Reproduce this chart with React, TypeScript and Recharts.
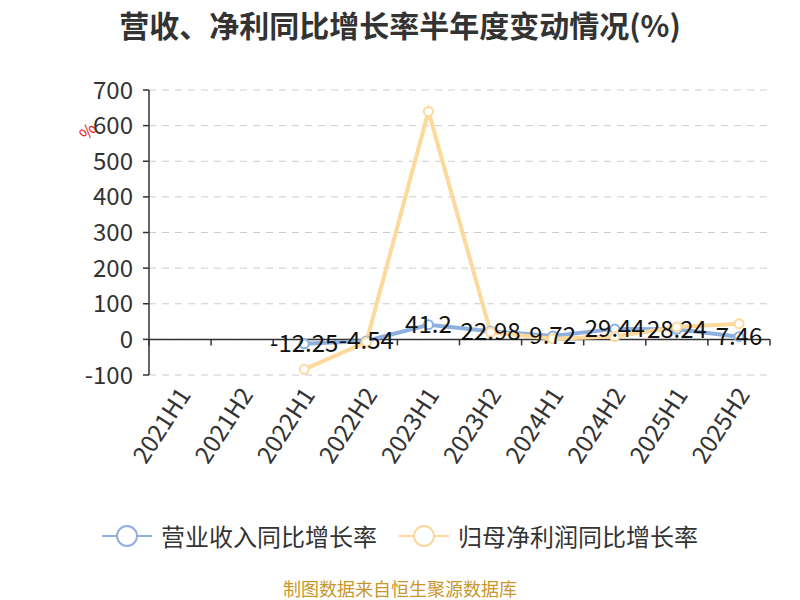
import React from 'react';
import {
  LineChart, Line, XAxis, YAxis, CartesianGrid, Legend, ReferenceLine, LabelList,
} from 'recharts';

const periods = ['2021H1', '2021H2', '2022H1', '2022H2', '2023H1', '2023H2', '2024H1', '2024H2', '2025H1', '2025H2'];
const revenueGrowth = [null, null, -12.25, -4.54, 41.2, 22.98, 9.72, 29.44, 28.24, 7.46];
const profitGrowth = [null, null, -84, -7.5, 640, 20, 2, 8, 35, 44];
const yTicks = [-100, 0, 100, 200, 300, 400, 500, 600, 700];

const REV = '营业收入同比增长率';
const PROFIT = '归母净利润同比增长率';
const BLUE = '#8fb0de';
const ORANGE = '#fdd99b';
const FONT = '"Noto Sans CJK SC", "Noto Sans", sans-serif';

const data = periods.map((p, i) => ({
  period: p,
  [REV]: revenueGrowth[i],
  [PROFIT]: profitGrowth[i],
}));

const XTick = ({ x, y, payload }: any) => (
  <text
    x={x + 3} y={y + 12}
    transform={`rotate(-57 ${x + 3} ${y + 12})`}
    textAnchor="end" dominantBaseline="central"
    fontSize={24} fill="#333" fontFamily={FONT}
  >
    {payload.value}
  </text>
);

// zero line with category boundary ticks
const ZeroAxis = (props: any) => {
  const { x1, x2, y1 } = props;
  const n = periods.length;
  const step = (x2 - x1) / n;
  return (
    <g>
      <line x1={x1} x2={x2} y1={y1} y2={y1} stroke="#333" strokeWidth={1.5} />
      {Array.from({ length: n + 1 }, (_, i) => (
        <line key={i} x1={x1 + step * i} x2={x1 + step * i} y1={y1} y2={y1 + 6} stroke="#333" strokeWidth={1.5} />
      ))}
    </g>
  );
};

const ValueLabel = ({ x, y, value }: any) =>
  value == null ? null : (
    <text x={x} y={y - 2} textAnchor="middle" dominantBaseline="central"
      fontSize={24} fill="#111" fontFamily={FONT}>
      {value}
    </text>
  );

const LegendContent = () => {
  const items = [
    { name: REV, color: BLUE },
    { name: PROFIT, color: ORANGE },
  ];
  return (
    <div style={{ display: 'flex', justifyContent: 'center', gap: 22, fontFamily: FONT }}>
      {items.map((it) => (
        <div key={it.name} style={{ display: 'flex', alignItems: 'center' }}>
          <svg width={50} height={24} style={{ marginRight: 9 }}>
            <line x1={0} x2={50} y1={12} y2={12} stroke={it.color} strokeWidth={2} />
            <circle cx={25} cy={12} r={10} fill="#fff" stroke={it.color} strokeWidth={2} />
          </svg>
          <span style={{ fontSize: 24, color: '#333' }}>{it.name}</span>
        </div>
      ))}
    </div>
  );
};

export default function App() {
  return (
    <div style={{ position: 'absolute', left: 0, top: 0, width: 800, height: 600, background: '#fff', fontFamily: FONT, overflow: 'hidden' }}>
      <div style={{
        position: 'absolute', top: 2, left: 0, width: 800, textAlign: 'center',
        fontSize: 30, fontWeight: 'bold', color: '#333',
      }}>
        营收、净利同比增长率半年度变动情况(%)
      </div>
      <span style={{
        position: 'absolute', left: 79, top: 118, fontSize: 17, color: '#e02020',
        transform: 'rotate(-50deg)',
      }}>%</span>
      <LineChart width={800} height={600} data={data}
        margin={{ top: 90, right: 30, left: 0, bottom: 125 }}>
        <CartesianGrid vertical={false} stroke="#ccc" strokeDasharray="7 6" />
        <XAxis dataKey="period" interval={0} tick={<XTick />} axisLine={false} tickLine={false}
          tickSize={0} height={100} padding={{ left: 31, right: 31 }} />
        <YAxis width={149} domain={[-100, 700]} ticks={yTicks} interval={0}
          axisLine={{ stroke: '#333', strokeWidth: 1.5 }} tickLine={{ stroke: '#333', strokeWidth: 1.5 }}
          tickSize={6} tickMargin={10}
          tick={{ fontSize: 24, fill: '#333', fontFamily: FONT }} />
        <ReferenceLine y={0} shape={<ZeroAxis />} />
        <Legend layout="horizontal" verticalAlign="middle" align="center"
          wrapperStyle={{ position: 'absolute', top: 518, left: 0, width: 800 }}
          content={<LegendContent />} />
        <Line dataKey={REV} stroke={BLUE} strokeWidth={4} type="linear"
          dot={{ r: 4.5, fill: '#fff', stroke: BLUE, strokeWidth: 2 }} isAnimationActive={false}>
          <LabelList dataKey={REV} content={<ValueLabel />} />
        </Line>
        <Line dataKey={PROFIT} stroke={ORANGE} strokeWidth={4} type="linear"
          dot={{ r: 4.5, fill: '#fff', stroke: ORANGE, strokeWidth: 2 }} isAnimationActive={false} />
      </LineChart>
      <div style={{
        position: 'absolute', top: 578, left: 0, width: 800, textAlign: 'center',
        fontSize: 18, lineHeight: '20px', color: '#c9962c',
      }}>
        制图数据来自恒生聚源数据库
      </div>
    </div>
  );
}
